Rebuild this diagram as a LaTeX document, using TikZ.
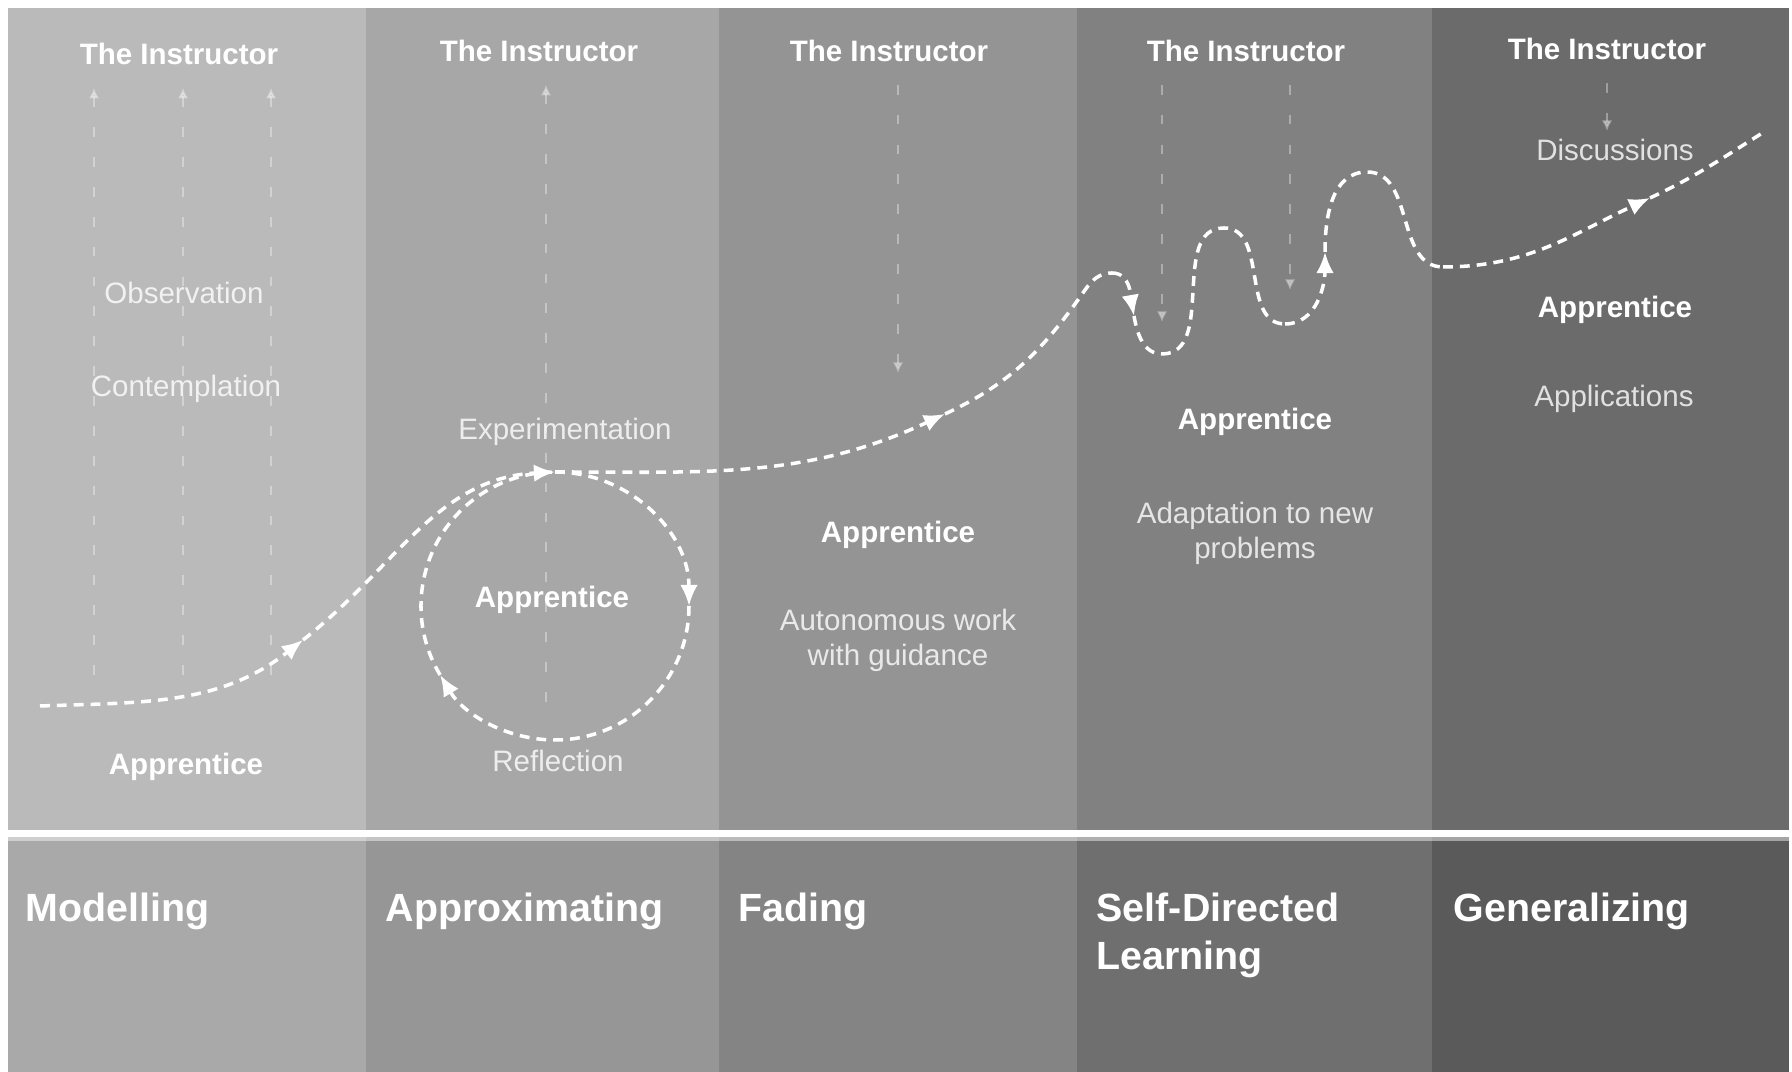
\documentclass[tikz,border=0pt]{standalone}
\usepackage{tikz}
\usepackage{fontspec}
\setmainfont{Liberation Sans}
\usetikzlibrary{arrows.meta}
\definecolor{topA}{HTML}{BABABA}
\definecolor{topB}{HTML}{A7A7A7}
\definecolor{topC}{HTML}{949494}
\definecolor{topD}{HTML}{818181}
\definecolor{topE}{HTML}{6B6B6B}
\definecolor{botA}{HTML}{A9A9A9}
\definecolor{botB}{HTML}{969696}
\definecolor{botC}{HTML}{848484}
\definecolor{botD}{HTML}{6F6F6F}
\definecolor{botE}{HTML}{5A5A5A}

\begin{document}
\begin{tikzpicture}[
  flow/.style={draw=white, line width=1pt, dash pattern=on 2.8pt off 2pt},
  tip/.style={-{Latex[length=6pt,width=5pt]}},
  guide/.style={draw=white, opacity=.35, line width=.7pt, dash pattern=on 2.8pt off 5.7pt},
  boss/.style={text=white, font=\fontsize{8.4}{10}\selectfont\bfseries},
  note/.style={text=white, text opacity=.8, font=\fontsize{8.4}{10}\selectfont, align=center},
  stage/.style={text=white, font=\fontsize{11.2}{13.7}\selectfont\bfseries, anchor=north west, inner sep=0pt, align=left},
]
\useasboundingbox (0,0) rectangle (17.92,10.72);
\fill[white] (0,0) rectangle (17.92,10.72);

% 背景の列
\foreach \xa/\xb/\ct/\cb in {0.08/3.66/topA/botA, 3.66/7.19/topB/botB, 7.19/10.77/topC/botC, 10.77/14.32/topD/botD, 14.32/17.89/topE/botE} {
  \fill[\ct] (\xa,2.42) rectangle (\xb,10.64);
  \fill[\cb] (\xa,0) rectangle (\xb,2.35);
}
\fill[white, opacity=.45] (0.08,2.31) rectangle (17.89,2.35);

% 指導者
\node[boss] (inst1) at (1.79,10.18) {The Instructor};
\node[boss] (inst2) at (5.39,10.21) {The Instructor};
\node[boss] (inst3) at (8.89,10.21) {The Instructor};
\node[boss] (inst4) at (12.46,10.21) {The Instructor};
\node[boss] (inst5) at (16.07,10.23) {The Instructor};

% 縦の点線
\coordinate (g1) at (0.94,3.89);
\coordinate (g2) at (1.83,3.89);
\coordinate (g3) at (2.71,3.89);
\coordinate (g4) at (5.46,3.54);
\coordinate (g5) at (8.98,6.99);
\coordinate (g6) at (11.62,7.50);
\coordinate (g7) at (12.90,7.82);
\coordinate (g8) at (16.07,9.41);
\foreach \g in {g1,g2,g3}
  \draw[guide, {Latex[length=3pt,width=3pt]}-] ([yshift=-3pt]\g |- inst1.south) -- (\g);
\draw[guide, {Latex[length=3pt,width=3pt]}-] ([yshift=-3pt]g4 |- inst2.south) -- (g4);
\draw[guide, -{Latex[length=3pt,width=3pt]}] ([yshift=-3pt]g5 |- inst3.south) -- (g5);
\draw[guide, -{Latex[length=3pt,width=3pt]}] ([yshift=-3pt]g6 |- inst4.south) -- (g6);
\draw[guide, -{Latex[length=3pt,width=3pt]}] ([yshift=-3pt]g7 |- inst4.south) -- (g7);
\draw[guide, -{Latex[length=3pt,width=3pt]}] ([yshift=-3pt]g8 |- inst5.south) -- (g8);

% 見習い
\node[note] (obs) at (1.84,7.79) {Observation};
\node[note] (cont) at (1.86,6.83) {Contemplation};
\node[boss] (app1) at (1.86,3.05) {Apprentice};
\node[note] (expe) at (5.65,6.40) {Experimentation};
\node[boss] (app2) at (5.52,4.72) {Apprentice};
\node[note] (refl) at (5.58,3.11) {Reflection};
\node[boss] (app3) at (8.98,5.37) {Apprentice};
\node[note] (auto) at (8.98,4.32) {Autonomous work\\with guidance};
\node[boss] (app4) at (12.55,6.50) {Apprentice};
\node[note] (adap) at (12.55,5.39) {Adaptation to new\\problems};
\node[note] (disc) at (16.15,9.22) {Discussions};
\node[boss] (app5) at (16.15,7.62) {Apprentice};
\node[note] (appl) at (16.14,6.73) {Applications};

% 学習の曲線
\coordinate (c0) at (0.40,3.66);
\coordinate (c1) at (3.03,4.32);
\coordinate (c2) at (5.55,6.00);
\coordinate (c3) at (9.45,6.58);
\coordinate (c3b) at (10.85,7.82);
\coordinate (c4) at (11.12,7.99);
\coordinate (c5) at (11.34,7.56);
\coordinate (c6) at (11.62,7.18);
\coordinate (c7) at (12.24,8.44);
\coordinate (c8) at (12.85,7.48);
\coordinate (c9) at (13.25,8.20);
\coordinate (c10) at (13.67,9.00);
\coordinate (c11) at (14.43,8.05);
\coordinate (c12) at (16.50,8.74);
\coordinate (c13) at (17.64,9.40);
\coordinate (loop) at (5.55,4.66);

\draw[flow, tip] (c0) to[out=2,in=218] (c1);
\draw[flow, tip] (c1) to[out=38,in=183] (c2);
\draw[flow, tip] (c2) to[out=0,in=205] (c3);
\draw[flow] (c3) to[out=25,in=235] (c3b) to[out=55,in=180] (c4);
\draw[flow, tip] (c4) to[out=0,in=100] (c5);
\draw[flow] (c5) to[out=-80,in=180] (c6) to[out=0,in=180] (c7) to[out=0,in=180] (c8);
\draw[flow, tip] (c8) to[out=0,in=-90] (c9);
\draw[flow] (c9) to[out=90,in=180] (c10) to[out=0,in=180] (c11);
\draw[flow, tip] (c11) to[out=0,in=205] (c12);
\draw[flow] (c12) to[out=25,in=212] (c13);

% 試行と振り返りの輪
\draw[flow, tip] (c2) arc[start angle=90, end angle=0, radius=1.34];
\draw[flow, tip] ([shift={(0:1.34)}]loop) arc[start angle=0, end angle=-149, radius=1.34];
\draw[flow] ([shift={(-149:1.34)}]loop) arc[start angle=-149, end angle=-270, radius=1.34];

% 段階
\node[stage] (s1) at (0.25,1.80) {Modelling};
\node[stage] (s2) at (3.85,1.80) {Approximating};
\node[stage] (s3) at (7.38,1.80) {Fading};
\node[stage] (s4) at (10.96,1.80) {Self-Directed\\Learning};
\node[stage] (s5) at (14.53,1.80) {Generalizing};
\end{tikzpicture}
\end{document}
